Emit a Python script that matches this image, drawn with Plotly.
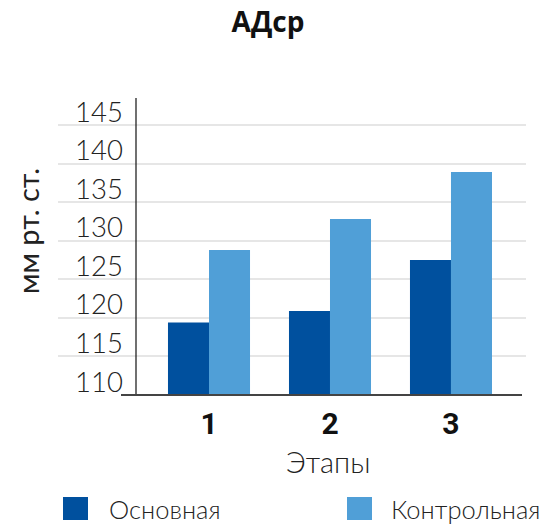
import plotly.graph_objects as go

# Data
stages = ["1", "2", "3"]
series_names = ["Основная", "Контрольная"]
main_group = [119.4, 120.9, 127.5]
control_group = [128.8, 132.8, 138.9]
y_ticks = [110, 115, 120, 125, 130, 135, 140, 145]

title_text = "АДср"
x_title = "Этапы"
y_title = "мм рт. ст."

colors = ["#00509E", "#509FD7"]

W, H = 548, 527
L, R, T, B = 58, 22, 98, 132
PW, PH = W - L - R, H - T - B


def px(x):
    return (x - L) / PW


def py(y):
    return (H - B - y) / PH


fig = go.Figure()
for name, vals, col in zip(series_names, [main_group, control_group], colors):
    fig.add_trace(go.Bar(x=stages, y=vals, name=name, marker_color=col,
                         marker_line_width=0, showlegend=False))

fig.update_layout(
    width=W, height=H,
    margin=dict(l=L, r=R, t=T, b=B),
    paper_bgcolor="white", plot_bgcolor="white",
    barmode="group", bargap=0.322, bargroupgap=0,
    title=dict(text=title_text, xref="container", yref="container",
               x=268 / W, y=1 - 22 / H, xanchor="center", yanchor="middle",
               font=dict(family="Open Sans", size=28, color="#111", weight=700)),
    xaxis=dict(type="category", range=[-1.248, 2.62], showgrid=False,
               showline=False, ticks="", ticklabelstandoff=8,
               tickfont=dict(family="Roboto", size=30, color="#111", weight=700)),
    yaxis=dict(range=[110, 148.5], tickvals=y_ticks, showgrid=True,
               gridcolor="#e6e6e6", gridwidth=1.5, showline=False,
               zeroline=False, ticks="", ticklabelposition="inside",
               ticklabeloverflow="allow", ticklabelstandoff=14,
               ticklabelshift=-13,
               tickfont=dict(family="Lato", size=27.5, color="#222", weight=300)),
    font=dict(family="Roboto"),
)

shapes = [
    # vertical axis line
    dict(type="line", xref="paper", yref="paper", x0=px(136), x1=px(136),
         y0=0, y1=1, line=dict(color="#111", width=1.2)),
    # horizontal baseline
    dict(type="line", xref="paper", yref="paper", x0=px(121), x1=px(522),
         y0=0, y1=0, line=dict(color="#444", width=2)),
]

annotations = [
    dict(text=y_title, xref="paper", yref="paper", x=px(27), y=py(231),
         xanchor="center", yanchor="middle", textangle=-90, showarrow=False,
         font=dict(family="Lato", size=29, color="#222", weight=400)),
    dict(text=x_title, xref="paper", yref="paper", x=px(328), y=py(461),
         xanchor="center", yanchor="middle", showarrow=False,
         font=dict(family="Lato", size=29, color="#222", weight=300)),
]

# Legend: colour squares with labels beneath the chart
legend_pos = [(63, 107), (347, 389)]
for (sx, tx), name, col in zip(legend_pos, series_names, colors):
    shapes.append(dict(type="rect", xref="paper", yref="paper",
                       x0=px(sx), x1=px(sx + 25), y0=py(497), y1=py(520),
                       fillcolor=col, line=dict(width=0)))
    annotations.append(dict(text=name, xref="paper", yref="paper",
                            x=px(tx), y=py(509), xanchor="left",
                            yanchor="middle", showarrow=False,
                            font=dict(family="Lato", size=25.5, color="#222",
                                      weight=300)))

fig.update_layout(shapes=shapes, annotations=annotations)
fig.write_html("out.html")
